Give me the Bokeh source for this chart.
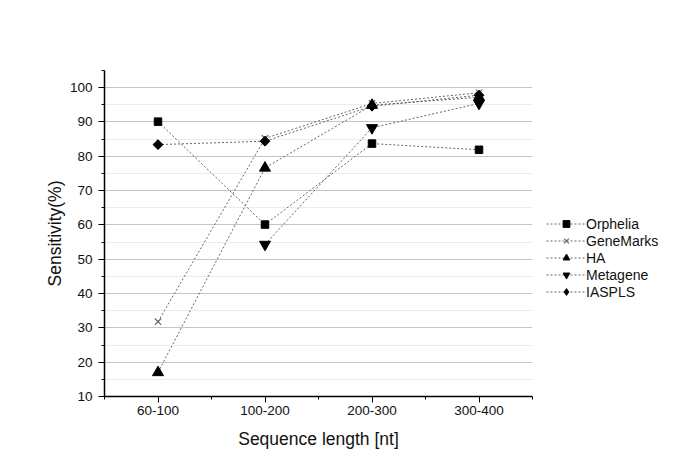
import numpy as np
from bokeh.plotting import figure
from bokeh.models import FixedTicker, Legend, LegendItem
from bokeh.embed import file_html
from bokeh.resources import INLINE

categories = ["60-100", "100-200", "200-300", "300-400"]
orphelia = [90.1, 60.1, 83.7, 81.9]
genemarks = [31.8, 85.2, 95.4, 98.5]
ha = [17.0, 76.6, 94.9, 97.2]
metagene = [np.nan, 54.3, 88.3, 95.4]
iaspls = [83.4, 84.4, 94.6, 97.8]

# name, values, marker, size, angle, colour, legend marker
series = [
    ("Orphelia", orphelia, "square", 7.5, 0.0, "black", None),
    ("GeneMarks", genemarks, "x", 9, 0.0, "#666666", None),
    ("HA", ha, "triangle", 11, 0.0, "black", None),
    ("Metagene", metagene, "inverted_triangle", 11, 0.0, "black", None),
    ("IASPLS", iaspls, "square", 7, np.pi / 4, "black", "diamond"),
]

FONT = "Liberation Sans"

p = figure(width=669, height=459, output_backend="svg", toolbar_location=None,
           x_range=(0.5, 4.5), y_range=(10, 105),
           min_border_left=104, min_border_right=0, min_border_top=70, min_border_bottom=63)
p.frame_width = 428
p.frame_height = 326
p.outline_line_color = None
p.background_fill_color = "white"

xs = list(range(1, len(categories) + 1))
items = []
for name, vals, marker, size, ang, color, lmarker in series:
    r1 = p.line(xs, vals, line_color="#666666", line_width=1, line_dash="2 2")
    rl = None
    if lmarker is not None:
        # diamond drawn underneath (hidden by the rotated square); used for the legend key
        rl = p.scatter(xs, vals, marker=lmarker, size=size * 1.25, fill_color=color,
                       line_color=color)
    r2 = p.scatter(xs, vals, marker=marker, size=size, angle=ang, fill_color=color,
                   line_color=color, line_width=1.2 if marker == "x" else 1)
    items.append(LegendItem(label=name, renderers=[r1, rl if rl is not None else r2]))

legend = Legend(items=items, location=(14, 96), padding=0, margin=0,
                spacing=0, glyph_width=40, glyph_height=17, label_height=15,
                label_text_font=FONT, label_text_font_size="14px",
                label_text_color="#111111",
                label_standoff=0, border_line_color=None,
                background_fill_alpha=0, label_width=85)
p.add_layout(legend, "right")

# x axis
p.xaxis.ticker = FixedTicker(ticks=xs, minor_ticks=[0.5, 1.5, 2.5, 3.5, 4.5])
p.xaxis.major_label_overrides = {i + 1: c for i, c in enumerate(categories)}
p.xaxis.axis_label = "Sequence length [nt]"
# y axis
p.yaxis.ticker = FixedTicker(ticks=list(range(10, 101, 10)),
                             minor_ticks=list(range(15, 106, 10)))
p.yaxis.axis_label = "Sensitivity(%)"

for ax in (p.xaxis[0], p.yaxis[0]):
    ax.axis_line_color = "black"
    ax.axis_line_width = 1.5
    ax.major_tick_line_color = "black"
    ax.minor_tick_line_color = "black"
    ax.major_tick_out = 6
    ax.major_tick_in = 0
    ax.minor_tick_out = 3
    ax.minor_tick_in = 0
    ax.major_label_text_font = FONT
    ax.major_label_text_font_size = "13.5px"
    ax.major_label_text_color = "#111111"
    ax.axis_label_text_font = FONT
    ax.axis_label_text_font_size = "17.5px"
    ax.axis_label_text_font_style = "normal"
    ax.axis_label_text_color = "#111111"

p.xaxis.major_label_standoff = 3
p.xaxis.axis_label_standoff = 11
p.yaxis.major_label_standoff = 6
p.yaxis.axis_label_standoff = 2

p.xgrid.grid_line_color = None
p.ygrid.grid_line_color = "#c4c4c4"
p.ygrid.grid_line_width = 1
p.ygrid.minor_grid_line_color = "#d8d8d8"
p.ygrid.minor_grid_line_dash = "1 1"

open("out.html", "w").write(file_html(p, INLINE))
